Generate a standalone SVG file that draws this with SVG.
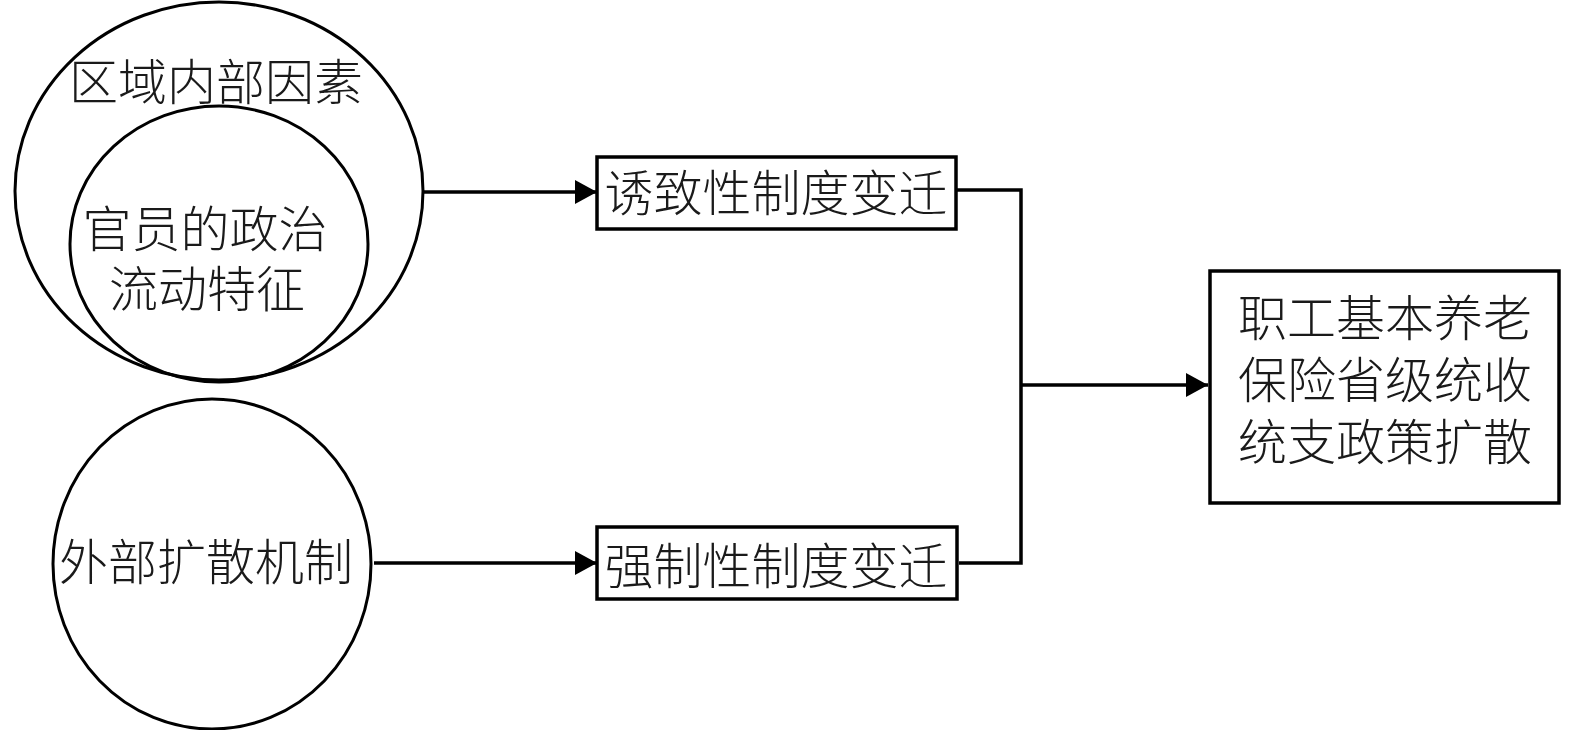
<svg xmlns="http://www.w3.org/2000/svg" width="1575" height="730" viewBox="0 0 1575 730">
<style>
.shape{fill:none;stroke:#000;stroke-width:3}
.box{fill:#fff;stroke:#000;stroke-width:3.5}
.lbl{font-family:"Noto Sans CJK SC","Noto Sans CJK TC",sans-serif;font-size:49px;font-weight:300;fill:#1a1a1a;text-anchor:middle}
.conn{fill:none;stroke:#000;stroke-width:3.5}
</style>
<defs>
<marker id="arr" markerUnits="userSpaceOnUse" markerWidth="22" markerHeight="24" refX="22" refY="12" orient="auto">
<path d="M0,0 L22,12 L0,24 Z" fill="#000"/>
</marker>
</defs>
<rect width="1575" height="730" fill="#fff"/>
<g id="connectors">
<line class="conn" x1="423" y1="192" x2="597" y2="192" marker-end="url(#arr)"/>
<line class="conn" x1="374" y1="563" x2="597" y2="563" marker-end="url(#arr)"/>
<polyline class="conn" points="956,190 1021,190 1021,563 959,563"/>
<line class="conn" x1="1021" y1="385" x2="1208" y2="385" marker-end="url(#arr)"/>
</g>
<g id="node-regional">
<ellipse class="shape" cx="219" cy="191" rx="204" ry="189"/>
<text class="lbl" x="216" y="100">区域内部因素</text>
</g>
<g id="node-officials">
<ellipse class="shape" cx="219" cy="244" rx="149" ry="138"/>
<text class="lbl" x="205" y="247">官员的政治</text>
<text class="lbl" x="207" y="307">流动特征</text>
</g>
<g id="node-external">
<ellipse class="shape" cx="212" cy="564" rx="159" ry="165"/>
<text class="lbl" x="206" y="580">外部扩散机制</text>
</g>
<g id="node-induced">
<rect class="box" x="597" y="157" width="359" height="72"/>
<text class="lbl" x="776" y="211">诱致性制度变迁</text>
</g>
<g id="node-mandatory">
<rect class="box" x="597" y="527" width="360" height="72"/>
<text class="lbl" x="776" y="584">强制性制度变迁</text>
</g>
<g id="node-policy">
<rect class="box" x="1210" y="271" width="349" height="232"/>
<text class="lbl" x="1385" y="336">职工基本养老</text>
<text class="lbl" x="1385" y="398">保险省级统收</text>
<text class="lbl" x="1385" y="460">统支政策扩散</text>
</g>
</svg>
